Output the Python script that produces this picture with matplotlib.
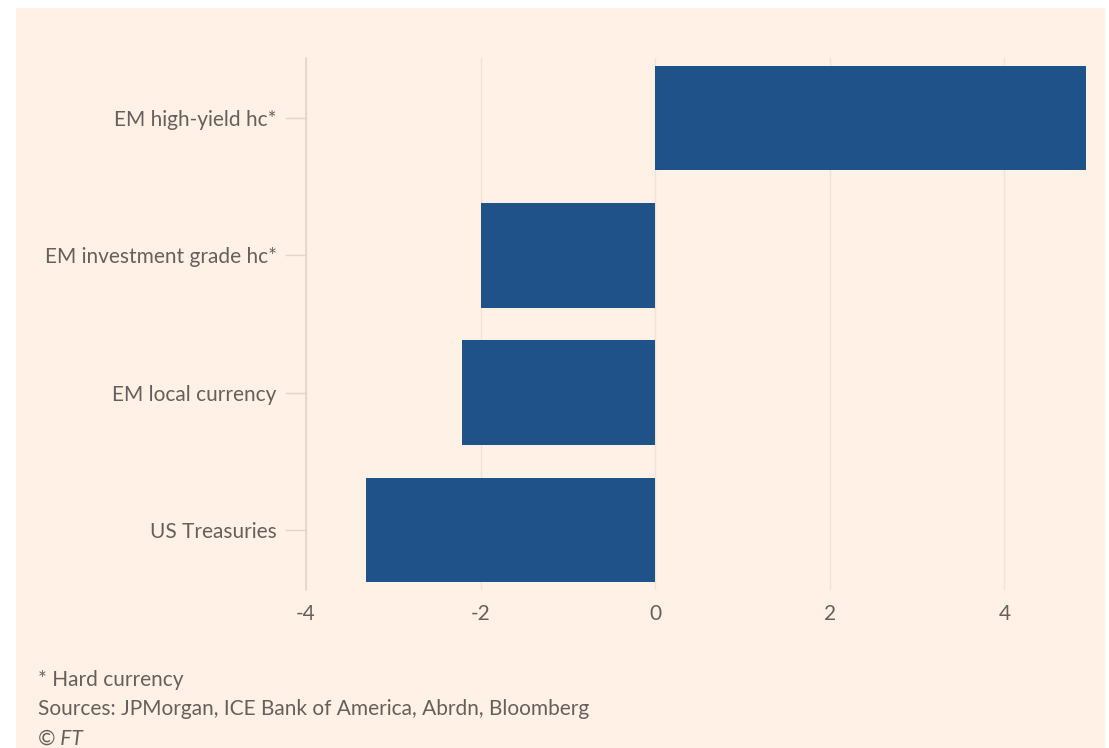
import matplotlib
matplotlib.use("Agg")
import matplotlib.pyplot as plt
from matplotlib.patches import Rectangle

categories = ["EM high-yield hc*", "EM investment grade hc*", "EM local currency", "US Treasuries"]
values = [4.93, -2.0, -2.21, -3.31]
xticks = [-4, -2, 0, 2, 4]

BG = "#FFF1E5"
BAR = "#1F5289"
TEXT = "#66605C"
GRID = "#EFE3D9"
AXIS = "#E2D6CC"

plt.rcParams["font.family"] = ["Lato", "DejaVu Sans"]

fig = plt.figure(figsize=(11.09, 7.48), dpi=100, facecolor="white")
# pink panel sits inside a thin white margin
fig.patches.append(Rectangle((16 / 1109, 0), (1105 - 16) / 1109, 740 / 748,
                             transform=fig.transFigure, facecolor=BG, edgecolor="none", zorder=-5))

ax = fig.add_axes([306 / 1109, 1 - 590 / 748, (1090 - 306) / 1109, (590 - 58) / 748])
ax.set_zorder(2)
ax.patch.set_alpha(0)

ypos = list(range(len(categories)))
ax.barh(ypos, values, height=0.76, color=BAR, zorder=3)

ax.set_ylim(len(categories) - 0.564, -0.436)
ax.set_xlim(-4, 4.98)
ax.set_xticks(xticks)
ax.set_xticklabels([str(t) for t in xticks])
ax.set_yticks(ypos)
ax.set_yticklabels(categories)

ax.grid(axis="x", color=GRID, linewidth=1, zorder=0)
ax.grid(axis="y", visible=False)
for s in ["top", "right", "bottom"]:
    ax.spines[s].set_visible(False)
ax.spines["left"].set_color(AXIS)
ax.spines["left"].set_linewidth(1.2)

ax.tick_params(axis="y", length=15, width=1, color=AXIS, pad=6, labelsize=15, labelcolor=TEXT)
ax.tick_params(axis="x", length=0, pad=10, labelsize=15, labelcolor=TEXT)

fig.text(38 / 1109, 1 - 680 / 748, "* Hard currency", fontsize=15, color=TEXT, va="center")
fig.text(38 / 1109, 1 - 709 / 748, "Sources: JPMorgan, ICE Bank of America, Abrdn, Bloomberg",
         fontsize=15, color=TEXT, va="center")
fig.text(38 / 1109, 1 - 739 / 748, "© FT", fontsize=15, color=TEXT, va="center", style="italic")

fig.savefig("out.png", dpi=100, facecolor=fig.get_facecolor())
